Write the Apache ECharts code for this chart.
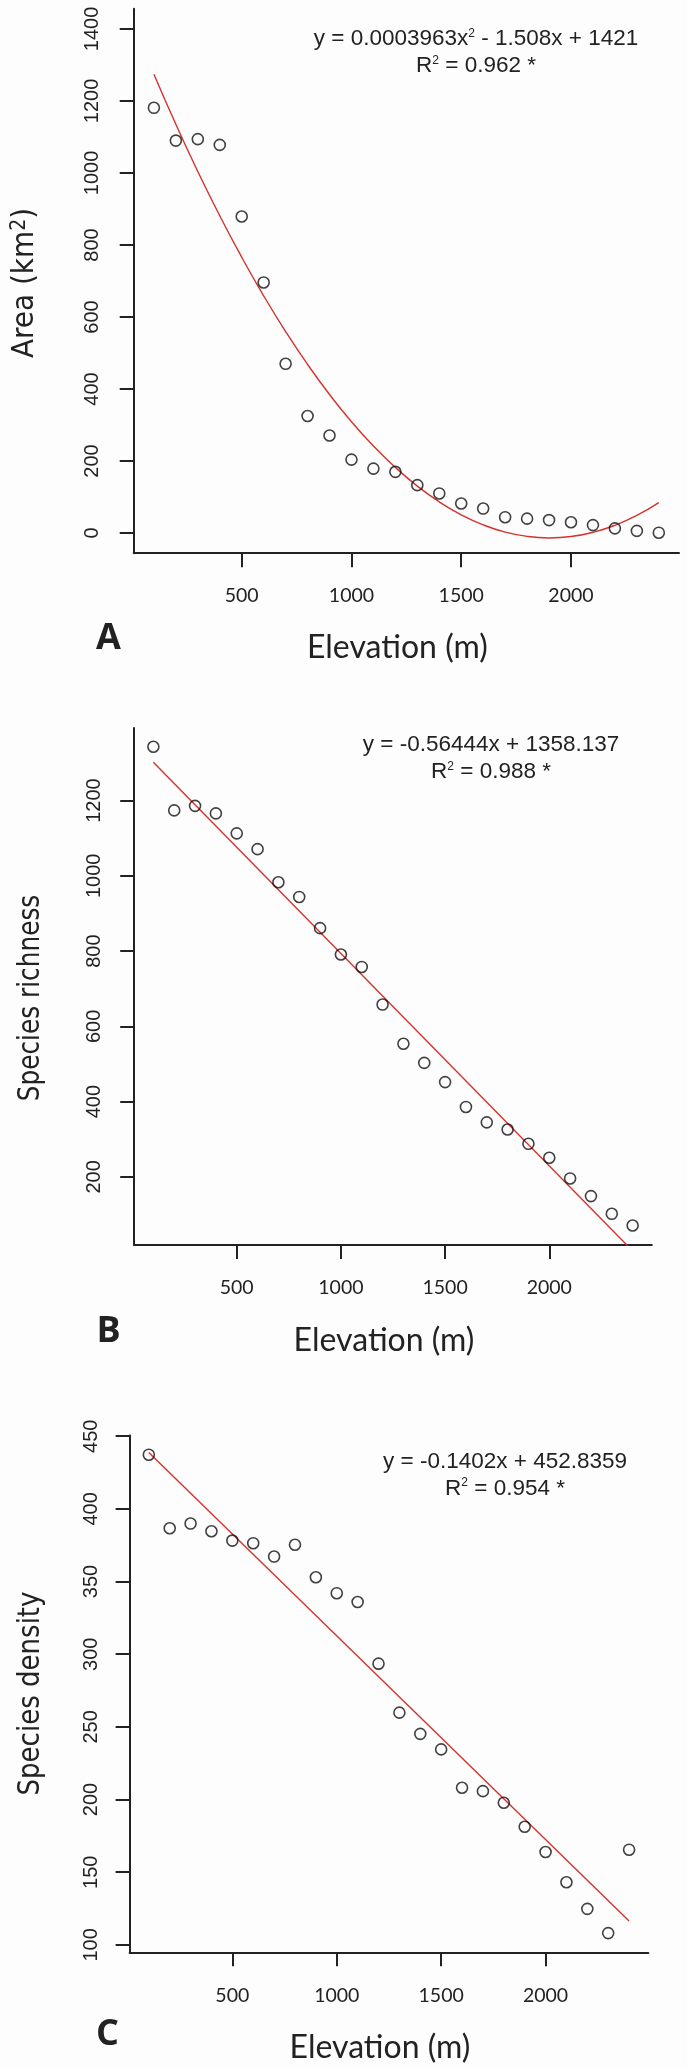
<!DOCTYPE html>
<html><head><meta charset="utf-8">
<script src="https://cdn.jsdelivr.net/npm/echarts@6/dist/echarts.min.js"></script>
<style>html,body{margin:0;padding:0;background:#fdfdfd}#c{width:687px;height:2068px}</style>
</head><body><div id="c"></div><script>
// ---- data ----
const elevation = [100,200,300,400,500,600,700,800,900,1000,1100,1200,1300,1400,1500,1600,1700,1800,1900,2000,2100,2200,2300,2400];
const areaValues = [1181,1090,1094,1078,879,696,470,325,271,204,179,170,133,110,82,68,44,40,36,30,22,13,6,1];
const areaFit = [1274.2,1135.3,1004.3,881.2,766.1,658.9,559.6,468.2,384.8,309.3,241.7,182.1,130.4,86.5,50.7,22.7,2.7,-9.4,-13.6,-9.8,1.9,21.5,49.0,84.5];
const richnessValues = [1343,1174,1186,1166,1113,1071,983,944,861,791,758,658,554,503,452,386,345,326,288,251,196,149,102,71];
const richnessFitX = [100,2400];
const richnessFit = [1301.7,3.5];
const densityValues = [437.3,386.7,389.9,384.6,378.2,376.4,367.2,375.3,353.0,342.0,335.9,293.5,259.8,245.2,234.5,208.1,205.8,197.8,181.3,163.9,143.1,124.8,108.1,165.5];
const densityFitX = [100,2400];
const densityFit = [438.8,116.4];
const xTicks = [500,1000,1500,2000];
const areaTicks = [0,200,400,600,800,1000,1200,1400];
const richnessTicks = [200,400,600,800,1000,1200];
const densityTicks = [100,150,200,250,300,350,400,450];

const INK = '#222';
const RED = '#d4322c';
const plain = v => String(v);

function xAx(gi, gap) {
  return {
    type: 'value', gridIndex: gi, min: 8, max: 2492,
    name: 'Elevation (m)', nameLocation: 'middle', nameGap: gap,
    nameTextStyle: {fontFamily: 'Lato', fontSize: 32, color: INK, padding: [0, 18, 0, 0]},
    axisLine: {show: true, onZero: false, lineStyle: {color: INK, width: 2}},
    axisTick: {show: true, length: 14, customValues: xTicks, lineStyle: {color: INK, width: 2}},
    axisLabel: {customValues: xTicks, formatter: plain, margin: 33, fontFamily: 'Lato', fontSize: 19.5, color: INK},
    splitLine: {show: false}
  };
}
function yAx(gi, min, max, ticks, margin) {
  return {
    type: 'value', gridIndex: gi, min: min, max: max,
    axisLine: {show: true, onZero: false, lineStyle: {color: INK, width: 2}},
    axisTick: {show: true, length: 14, customValues: ticks, lineStyle: {color: INK, width: 2}},
    axisLabel: {customValues: ticks, formatter: plain, rotate: 90, margin: margin, fontFamily: 'Liberation Sans', fontSize: 20, color: INK},
    splitLine: {show: false}
  };
}
function pts(xs, ys) { return xs.map((x, i) => [x, ys[i]]); }
function scatter(i, ys) {
  return {type: 'scatter', xAxisIndex: i, yAxisIndex: i, data: pts(elevation, ys),
    symbol: 'circle', symbolSize: 11, silent: true, z: 3,
    itemStyle: {color: 'rgba(0,0,0,0)', borderColor: '#111', borderWidth: 1.6}};
}
function fitLine(i, xs, ys, smooth) {
  return {type: 'line', xAxisIndex: i, yAxisIndex: i, data: pts(xs, ys), smooth: smooth,
    showSymbol: false, symbol: 'none', clip: true, silent: true, z: 2,
    lineStyle: {color: RED, width: 1.4}};
}
function eq(x, y, t1a, t1b, r2) {
  const rich = {
    n: {fontSize: 22.5, fontFamily: 'Liberation Sans', fill: INK},
    s: {fontSize: 12, fontFamily: 'Liberation Sans', fill: INK, verticalAlign: 'top'}
  };
  const out = [];
  out.push({type: 'text', x: x, y: y, silent: true, style: {
    text: t1b === null ? '{n|' + t1a + '}' : '{n|' + t1a + '}{s|2}{n|' + t1b + '}',
    rich: rich, align: 'center', verticalAlign: 'middle'}});
  out.push({type: 'text', x: x, y: y + 27, silent: true, style: {
    text: '{n|R}{s|2}{n| = ' + r2 + ' *}', rich: rich, align: 'center', verticalAlign: 'middle'}});
  return out;
}
function letter(x, y, t) {
  return {type: 'text', x: x, y: y, silent: true, style: {text: t, fontSize: 36, fontWeight: 'bold',
    fontFamily: 'Open Sans', fill: INK, align: 'center', verticalAlign: 'middle'}};
}
function yTitle(x, y, text, sx) {
  return {type: 'text', x: x, y: y, rotation: Math.PI / 2, scaleX: sx, silent: true, style: {
    text: text, align: 'center', verticalAlign: 'middle',
    rich: {
      a: {fontFamily: 'DejaVu Sans', fontSize: 31, fill: INK},
      s: {fontFamily: 'DejaVu Sans', fontSize: 21, fill: INK, verticalAlign: 'top'}
    }}};
}

const chart = echarts.init(document.getElementById('c'), null, {renderer: 'canvas'});
chart.setOption({
  backgroundColor: '#fdfdfd',
  animation: false,
  grid: [
    {left: 133.7, top: 8.8, width: 545.3, height: 544.4},
    {left: 134.2, top: 728, width: 517.6, height: 517},
    {left: 129.6, top: 1435.5, width: 518.7, height: 516.8}
  ],
  xAxis: [xAx(0, 78), xAx(1, 80), xAx(2, 79.5)],
  yAxis: [
    yAx(0, -56, 1456, areaTicks, 31),
    yAx(1, 19.1, 1392.9, richnessTicks, 30),
    yAx(2, 94.9, 450.5, densityTicks, 28)
  ],
  series: [
    fitLine(0, elevation, areaFit, true), scatter(0, areaValues),
    fitLine(1, richnessFitX, richnessFit, false), scatter(1, richnessValues),
    fitLine(2, densityFitX, densityFit, false), scatter(2, densityValues)
  ],
  graphic: [].concat(
    [
      yTitle(25, 283, '{a|Area (km}{s|2}{a|)}', 0.9),
      yTitle(31, 998, '{a|Species richness}', 0.8),
      yTitle(31, 1693.5, '{a|Species density}', 0.84)
    ],
    eq(476, 39, 'y = 0.0003963x', ' - 1.508x + 1421', '0.962'),
    eq(491, 745, 'y = -0.56444x + 1358.137', null, '0.988'),
    eq(505, 1461.5, 'y = -0.1402x + 452.8359', null, '0.954'),
    [letter(108.5, 638.5, 'A'), letter(108.5, 1331.5, 'B'), letter(107.5, 2035, 'C')]
  )
});
</script></body></html>
